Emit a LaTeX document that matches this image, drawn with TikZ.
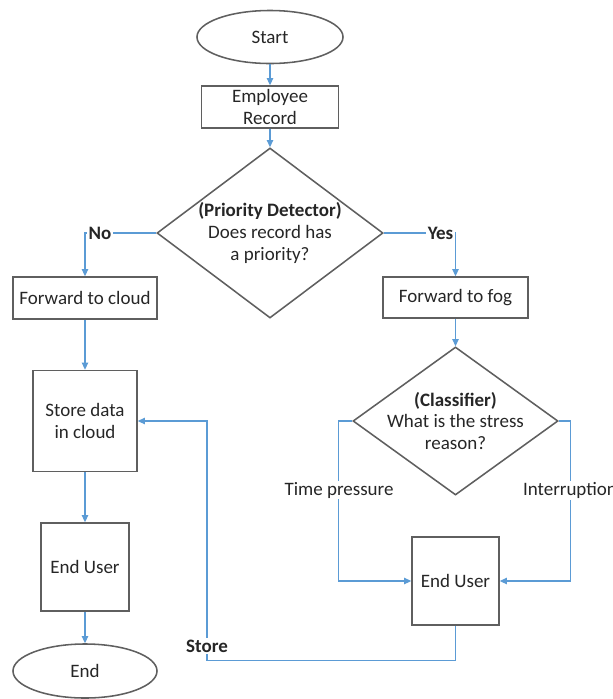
\documentclass[tikz,border=0pt]{standalone}
\usepackage{fontspec}
\setmainfont{Carlito}
\usetikzlibrary{arrows.meta,shapes.geometric}
\definecolor{flowblue}{RGB}{91,155,213}
\definecolor{edgegray}{RGB}{95,95,95}
\definecolor{textgray}{RGB}{38,38,38}

\begin{document}
\fontsize{13.5}{15.6}\selectfont
\begin{tikzpicture}[x=0.025cm, y=-0.025cm, >={Triangle[length=5pt,width=4.5pt]},
  text=textgray,
  box/.style={draw=edgegray, line width=1.1pt, rectangle, inner sep=0pt, align=center},
  term/.style={draw=edgegray, line width=1.1pt, ellipse, inner sep=0pt},
  decision/.style={draw=edgegray, line width=1.1pt, diamond, inner sep=0pt},
  flow/.style={draw=flowblue, line width=0.9pt},
  tag/.style={fill=white, inner sep=1pt}]
\useasboundingbox (0,0) rectangle (613,699);

% Top of the chart
\node[term, minimum width=3.65cm, minimum height=1.325cm] (start) at (270,37) {Start};
\node[box, minimum width=3.425cm, minimum height=1.05cm] (record) at (270,107) {Employee\\Record};
\node[decision, minimum width=5.65cm, minimum height=4.25cm,
  label={[align=center]center:{\textbf{(Priority Detector)}\\Does record has\\a priority?}}] (prio) at (270,233) {};
\draw[flow,->] (start.south) -- (record.north);
\draw[flow,->] (record.south) -- (prio.north);

% Cloud branch
\node[box, minimum width=3.6cm, minimum height=1.05cm] (cloud) at (85,298) {Forward to cloud};
\node[box, minimum width=2.6cm, minimum height=2.525cm] (store) at (85,421) {Store data\\in cloud};
\node[box, minimum width=2.2cm, minimum height=2.2cm] (userA) at (85,567) {End User};
\node[term, minimum width=3.6cm, minimum height=1.35cm] (end) at (85,671) {End};
\draw[flow,->] (prio.west) -| (cloud.north);
\node[tag, anchor=west, font=\bfseries] (no) at (87,233) {No};
\draw[flow,->] (cloud.south) -- (store.north);
\draw[flow,->] (store.south) -- (userA.north);
\draw[flow,->] (userA.south) -- (end.north);

% Fog branch
\node[box, minimum width=3.625cm, minimum height=1.025cm] (fog) at (455.5,297.5) {Forward to fog};
\node[decision, minimum width=5.125cm, minimum height=3.7cm,
  label={[align=center]center:{\textbf{(Classifier)}\\What is the stress\\reason?}}] (cls) at (455.5,421) {};
\node[box, minimum width=2.175cm, minimum height=2.2cm] (userB) at (455.5,581) {End User};
\draw[flow,->] (prio.east) -| (fog.north);
\node[tag, anchor=east, font=\bfseries] (yes) at (455,233) {Yes};
\draw[flow,->] (fog.south) -- (cls.north);
\draw[flow,->] (cls.west) -- ++(-14,0) |- (userB.west);
\draw[flow,->] (cls.east) -- ++(12,0) |- (userB.east);
\node[tag] (tp) at (339,490) {Time pressure};
\node[tag] (intr) at (570,490) {Interruption};

% Back to the cloud
\coordinate (loop) at (207,421);
\draw[flow,->] (userB.south) -- ++(0,35) -| (loop) -- (store.east);
\node[tag, font=\bfseries] (st) at (207,646) {Store};
\end{tikzpicture}
\end{document}
